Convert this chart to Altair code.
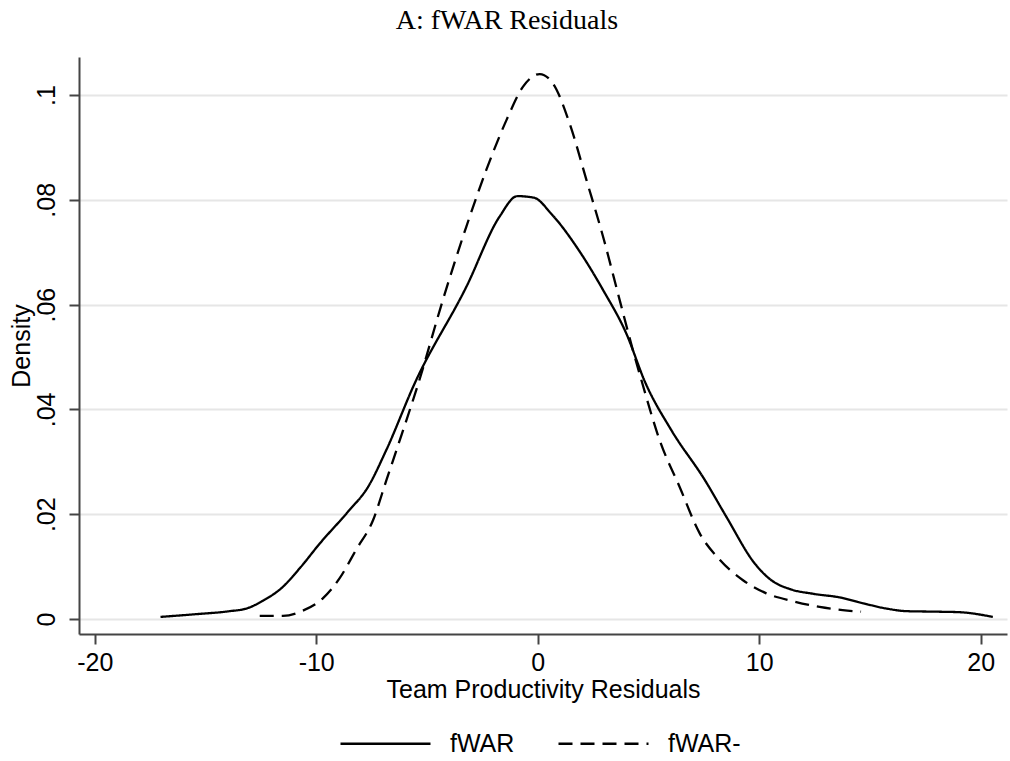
import altair as alt
import pandas as pd

# Kernel density estimates of team productivity residuals
fwar_x = [-17.03, -15.5, -13.9, -13.15, -12.4, -11.57, -10.74, -9.84, -8.56, -7.66,
          -6.83, -5.55, -3.22, -1.72, -0.92, -0.17, 0.62, 1.9, 2.95, 4.0,
          4.85, 6.04, 7.55, 8.52, 9.8, 10.55, 11.4, 12.46, 13.67, 14.7,
          15.74, 16.65, 18.0, 19.05, 20.55]
fwar_y = [0.0004, 0.0009, 0.0015, 0.002, 0.0035, 0.0059, 0.0097, 0.0144, 0.0205, 0.0252,
          0.0323, 0.0450, 0.0634, 0.0768, 0.0807, 0.0804, 0.0773, 0.0701, 0.0628, 0.0545,
          0.0452, 0.036, 0.0265, 0.0195, 0.0106, 0.0074, 0.0057, 0.0048, 0.0041, 0.003,
          0.002, 0.0015, 0.0014, 0.0013, 0.0004]

fwarm_x = [-12.55, -11.5, -10.6, -9.69, -8.94, -8.2, -7.43, -6.83, -6.15, -5.4,
           -4.28, -3.22, -2.32, -1.41, -0.66, 0.09, 0.69, 1.44, 2.2, 2.95,
           3.7, 4.3, 4.75, 5.5, 6.41, 7.31, 8.22, 9.27, 10.32, 11.52,
           12.73, 13.77, 14.6]
fwarm_y = [0.0006, 0.0006, 0.0016, 0.004, 0.0078, 0.0132, 0.0189, 0.0265, 0.0351, 0.0448,
           0.0609, 0.0749, 0.0857, 0.0952, 0.1016, 0.104, 0.1022, 0.0946, 0.0838, 0.073,
           0.0609, 0.0513, 0.0446, 0.0342, 0.0252, 0.0164, 0.0113, 0.0074, 0.0049, 0.0034,
           0.0023, 0.0017, 0.0014]

series_names = ["fWAR", "fWAR-"]
x_ticks = [-20, -10, 0, 10, 20]
y_ticks = [0, 0.02, 0.04, 0.06, 0.08, 0.1]

df = pd.concat([
    pd.DataFrame({"resid": fwar_x, "density": fwar_y, "series": series_names[0], "order": range(len(fwar_x))}),
    pd.DataFrame({"resid": fwarm_x, "density": fwarm_y, "series": series_names[1], "order": range(len(fwarm_x))}),
])

FONT = "Liberation Sans"
AXIS_GREY = "#444444"

chart = alt.Chart(df).mark_line(
    color="black", strokeWidth=2.3, interpolate="monotone"
).encode(
    x=alt.X("resid:Q",
            scale=alt.Scale(domain=[-20.71, 21.19], nice=False, zero=False),
            axis=alt.Axis(values=x_ticks, title="Team Productivity Residuals",
                          grid=False, tickSize=10, labelPadding=6, titlePadding=2,
                          labelExpr="'' + datum.value")),
    y=alt.Y("density:Q",
            scale=alt.Scale(domain=[-0.00286, 0.10725], nice=False, zero=False),
            axis=alt.Axis(values=y_ticks, title="Density", grid=True,
                          gridColor="#e6e6e6", gridWidth=2,
                          tickSize=10, labelAngle=270, labelAlign="center",
                          labelBaseline="bottom", labelPadding=10, titlePadding=0,
                          labelExpr="datum.value == 0 ? '0' : substring(format(datum.value, '.2~f'), 1)")),
    strokeDash=alt.StrokeDash("series:N",
                              scale=alt.Scale(domain=series_names, range=[[1, 0], [14, 8]]),
                              legend=alt.Legend(title=None, orient="none", direction="horizontal",
                                                legendX=260, legendY=640,
                                                symbolType="stroke", symbolSize=8100,
                                                symbolStrokeWidth=2.3, symbolStrokeColor="black",
                                                labelFontSize=25, labelFont=FONT, labelColor="black",
                                                labelOffset=18, columnPadding=38)),
    order="order:Q",
).properties(
    width=928,
    height=577,
    background="white",
    title=alt.TitleParams("A: fWAR Residuals", font="Liberation Serif", fontSize=28,
                          fontWeight="normal", color="black", anchor="middle", offset=22,
                          dx=-36),
    autosize=alt.AutoSizeParams(type="none"),
    padding={"left": 79, "top": 57, "right": 3, "bottom": 127},
).configure_view(
    stroke=None
).configure_axis(
    labelFont=FONT, titleFont=FONT, labelFontSize=25, titleFontSize=25,
    labelColor="black", titleColor="black", titleFontWeight="normal",
    domainColor=AXIS_GREY, domainWidth=2, tickColor=AXIS_GREY, tickWidth=2,
)

chart.save("out.html", embed_options={"renderer": "svg", "actions": False})
